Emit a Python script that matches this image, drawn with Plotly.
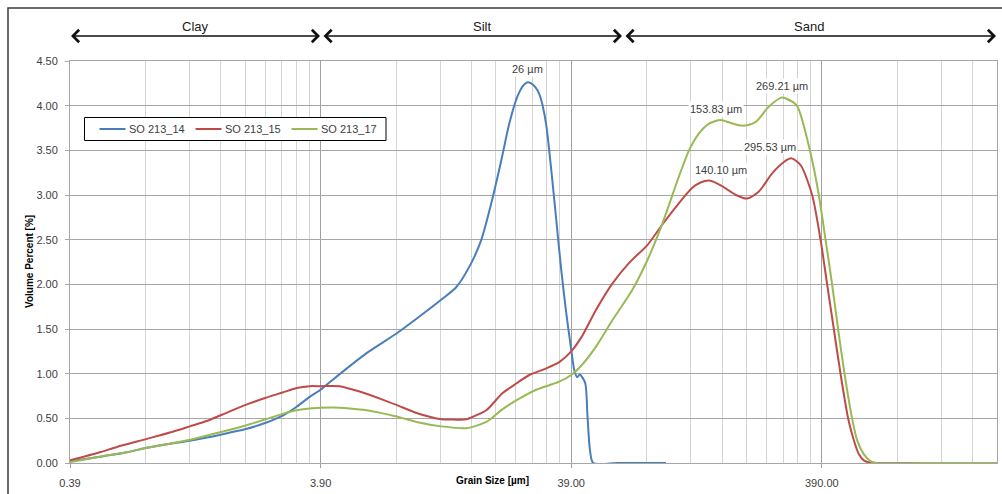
import math
import plotly.graph_objects as go

# ---------------- data (grain size in µm, volume percent) ----------------
size_14 = [0.39, 0.513, 0.658, 0.79, 0.95, 1.173, 1.573, 1.96, 2.355, 2.753, 3.13, 3.526, 3.9,
           4.35, 5.95, 7.83, 9.67, 11.84, 13.58, 15.58, 17.08, 18.72, 20.52, 22.08, 23.77, 25.0,
           26.0, 27.0, 28.0, 29.08, 30.0, 31.02, 32.47, 33.99, 35.59, 37.25, 39.0, 40.1, 41.2,
           42.2, 44.3, 45.3, 46.3, 47.7, 60.0, 93.2]
vol_14 = [0.02, 0.07, 0.12, 0.17, 0.21, 0.25, 0.32, 0.38, 0.45, 0.53, 0.63, 0.74, 0.82,
          0.93, 1.23, 1.45, 1.64, 1.83, 1.97, 2.24, 2.50, 2.91, 3.39, 3.80, 4.10, 4.22,
          4.26, 4.25, 4.21, 4.13, 4.00, 3.78, 3.28, 2.72, 2.16, 1.68, 1.27, 1.04, 0.96,
          0.99, 0.90, 0.52, 0.15, 0.0, 0.0, 0.0]

size_15 = [0.39, 0.513, 0.6, 0.79, 1.003, 1.173, 1.37, 1.573, 1.96, 2.355, 2.753, 3.13, 3.526,
           3.9, 4.64, 5.58, 6.89, 7.83, 9.41, 10.9, 11.84, 14.88, 15.58, 17.88, 20.71, 23.55,
           26.53, 31.02, 34.94, 39.0, 43.1, 48.9, 57.0, 66.4, 78.5, 90.1, 105.0, 118.7, 128.0,
           140.1, 155.8, 177.2, 196.0, 218.8, 246.6, 275.2, 295.5, 321.7, 356.8, 385.4, 409.5,
           435.4, 463.0, 496.4, 520.0, 547.6, 573.3, 617.2, 700.0, 1000.0, 1950.0]
vol_15 = [0.03, 0.12, 0.18, 0.27, 0.35, 0.41, 0.47, 0.54, 0.65, 0.73, 0.79, 0.84, 0.86,
          0.86, 0.86, 0.80, 0.71, 0.65, 0.56, 0.51, 0.49, 0.49, 0.51, 0.59, 0.78, 0.89,
          0.985, 1.06, 1.13, 1.25, 1.42, 1.71, 2.01, 2.24, 2.44, 2.67, 2.91, 3.08, 3.14,
          3.16, 3.10, 3.00, 2.96, 3.04, 3.24, 3.37, 3.41, 3.33, 3.00, 2.50, 2.00,
          1.50, 1.00, 0.50, 0.28, 0.10, 0.03, 0.0, 0.0, 0.0, 0.0]

size_17 = [0.39, 0.513, 0.658, 0.79, 0.95, 1.173, 1.573, 1.96, 2.355, 2.753, 3.13, 3.526, 4.35,
           5.09, 5.95, 7.83, 9.41, 11.84, 14.88, 17.88, 20.71, 24.2, 28.3, 34.94, 39.0, 43.1,
           48.9, 57.0, 68.4, 78.5, 90.1, 105.0, 115.1, 126.2, 138.3, 153.8, 163.1, 182.1,
           196.0, 212.9, 239.9, 269.2, 280.3, 310.1, 349.4, 379.4, 403.5, 428.6, 452.9, 480.3,
           514.9, 540.0, 573.3, 610.0, 646.2, 1000.0, 1950.0]
vol_17 = [0.01, 0.07, 0.12, 0.17, 0.21, 0.26, 0.35, 0.42, 0.49, 0.55, 0.59, 0.61, 0.62,
          0.61, 0.59, 0.52, 0.46, 0.41, 0.39, 0.46, 0.60, 0.72, 0.82, 0.91, 0.985, 1.10,
          1.30, 1.60, 1.94, 2.27, 2.68, 3.21, 3.50, 3.69, 3.80, 3.84, 3.82, 3.78,
          3.78, 3.82, 3.99, 4.09, 4.08, 4.00, 3.50, 3.00, 2.50, 2.00, 1.50, 1.00,
          0.50, 0.25, 0.10, 0.02, 0.0, 0.0, 0.0]

series_names = ["SO 213_14", "SO 213_15", "SO 213_17"]
series_colors = ["#4A7EBB", "#BE4B48", "#98B954"]

x_tick_vals = [0.39, 3.9, 39.0, 390.0]
x_tick_text = ["0.39", "3.90", "39.00", "390.00"]
x_min, x_max = 0.39, 1950.0

peak_labels = ["26 µm", "153.83 µm", "269.21 µm", "295.53 µm", "140.10 µm"]
peak_label_x = [26.0, 147.1, 270.0, 242.0, 154.9]
peak_label_y = [4.41, 3.96, 4.225, 3.535, 3.285]

class_names = ["Clay", "Silt", "Sand"]

# ---------------- figure ----------------
FONT = "Liberation Sans, Arial, sans-serif"
W, H = 1002, 494
ML, MR, MT, MB = 70, 5, 61, 31
PW, PH = W - ML - MR, H - MT - MB


def px_x(p):
    return (p - ML) / PW


def px_y(p):
    return (H - MB - p) / PH


fig = go.Figure()
for name, xs, ys, col in zip(series_names, [size_14, size_15, size_17],
                             [vol_14, vol_15, vol_17], series_colors):
    fig.add_trace(go.Scatter(x=xs, y=ys, mode="lines", name=name, showlegend=False,
                             line=dict(color=col, width=2, shape="spline", smoothing=0.7)))

minor_vals = []
for n in range(4):
    for k in range(2, 10):
        v = 0.39 * k * 10 ** n
        if v <= x_max * 1.0001:
            minor_vals.append(v)

fig.update_layout(
    width=W, height=H,
    margin=dict(l=ML, r=MR, t=MT, b=MB, pad=0),
    paper_bgcolor="white", plot_bgcolor="white",
    font=dict(family=FONT, size=11, color="#404040"),
    showlegend=False,
    xaxis=dict(type="log", range=[math.log10(x_min), math.log10(x_max)],
               tickmode="array", tickvals=x_tick_vals, ticktext=x_tick_text,
               showgrid=True, gridcolor="#a0a0a0", gridwidth=1,
               minor=dict(tickmode="array", tickvals=minor_vals, showgrid=True,
                          gridcolor="#d4d4d4", gridwidth=1, ticks=""),
               ticks="outside", ticklen=4, tickcolor="#a0a0a0",
               ticklabelstandoff=6,
               showline=True, linecolor="#a6a6a6", mirror=True, zeroline=False,
               tickfont=dict(size=11, color="#404040")),
    yaxis=dict(range=[0, 4.5], tickmode="linear", tick0=0, dtick=0.5, tickformat=".2f",
               showgrid=True, gridcolor="#a6a6a6", gridwidth=1,
               ticks="outside", ticklen=4, tickcolor="#a6a6a6",
               ticklabelstandoff=5,
               showline=True, linecolor="#a6a6a6", mirror=True, zeroline=False,
               tickfont=dict(size=11, color="#404040")),
)

annotations = []
shapes = []
# class headings
for name, cx in zip(class_names, [195, 482, 809]):
    annotations.append(dict(text=name, xref="paper", yref="paper", x=px_x(cx), y=px_y(26),
                            xanchor="center", yanchor="middle", showarrow=False,
                            font=dict(family=FONT, size=13, color="#1a1a1a")))
# double arrows
for x0, x1 in [(69.5, 320), (322, 622), (624, 996)]:
    annotations.append(dict(text="", xref="paper", yref="paper", x=px_x(x1), y=px_y(36),
                            ax=-(x1 - x0), ay=0, axref="pixel", ayref="pixel",
                            showarrow=True, arrowside="end+start", arrowhead=4, startarrowhead=4,
                            arrowsize=1.6, startarrowsize=1.6, arrowwidth=1.5,
                            arrowcolor="#111111", standoff=0, startstandoff=0))
# peak labels
for t, xv, yv in zip(peak_labels, peak_label_x, peak_label_y):
    annotations.append(dict(text=t, xref="x", yref="y", x=math.log10(xv), y=yv,
                            xanchor="center", yanchor="middle", showarrow=False,
                            bgcolor="white", borderpad=1,
                            font=dict(family=FONT, size=11, color="#404040")))
# axis titles
annotations.append(dict(text="<b>Volume Percent [%]</b>", xref="paper", yref="paper",
                        x=px_x(29), y=0.5, xanchor="center", yanchor="middle",
                        textangle=-90, showarrow=False,
                        font=dict(family=FONT, size=10, color="#000000")))
annotations.append(dict(text="<b>Grain Size [µm]</b>", xref="paper", yref="paper",
                        x=px_x(492), y=px_y(480), xanchor="center", yanchor="middle",
                        showarrow=False, font=dict(family=FONT, size=10, color="#000000")))

# legend box (drawn as shapes + text)
LEG_L, LEG_R, LEG_T, LEG_B = 84.5, 386, 117.5, 140.5
LEG_CY = (LEG_T + LEG_B) / 2
shapes.append(dict(type="rect", xref="paper", yref="paper",
                   x0=px_x(LEG_L), x1=px_x(LEG_R), y0=px_y(LEG_B), y1=px_y(LEG_T),
                   line=dict(color="#000000", width=1), fillcolor="white", layer="above"))
for i, (name, col) in enumerate(zip(series_names, series_colors)):
    sx = 99.5 + 96 * i
    shapes.append(dict(type="line", xref="paper", yref="paper",
                       x0=px_x(sx), x1=px_x(sx + 26), y0=px_y(LEG_CY), y1=px_y(LEG_CY),
                       line=dict(color=col, width=2), layer="above"))
    annotations.append(dict(text=name, xref="paper", yref="paper", x=px_x(sx + 27),
                            y=px_y(LEG_CY), xanchor="left", yanchor="middle", showarrow=False,
                            font=dict(family=FONT, size=11, color="#404040")))

# outer chart frame
shapes.append(dict(type="rect", xref="paper", yref="paper",
                   x0=px_x(8), x1=px_x(1012), y0=px_y(502), y1=px_y(8),
                   line=dict(color="#3a3a3a", width=1.5), fillcolor="rgba(0,0,0,0)",
                   layer="above"))

fig.update_layout(annotations=annotations, shapes=shapes)

fig.write_html("out.html", config={"displayModeBar": False},
               post_script="document.body.style.margin='0';")
